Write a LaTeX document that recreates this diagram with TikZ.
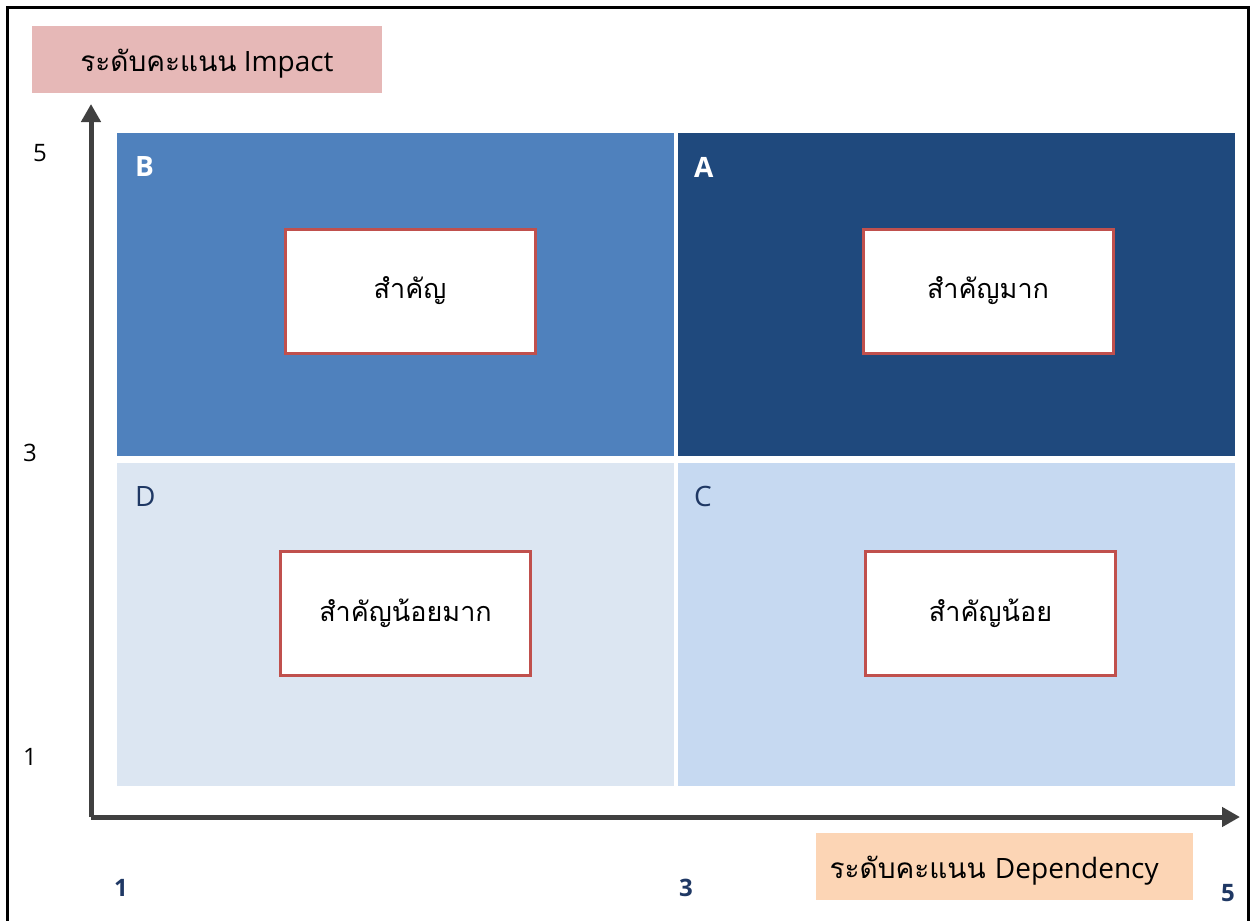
\documentclass[tikz,border=0pt]{standalone}
\usepackage{fontspec}
\setmainfont{Open Sans}
\newfontfamily\thaifont[Script=Thai]{Loma}
\usetikzlibrary{arrows.meta,positioning}

\definecolor{impactfill}{HTML}{E6B8B7}
\definecolor{depfill}{HTML}{FCD5B5}
\definecolor{quadA}{HTML}{1F497D}
\definecolor{quadB}{HTML}{4F81BD}
\definecolor{quadC}{HTML}{C6D9F1}
\definecolor{quadD}{HTML}{DCE6F2}
\definecolor{boxred}{HTML}{C0504D}
\definecolor{darkblue}{HTML}{1F3864}
\definecolor{axisgray}{HTML}{404040}

\begin{document}
\begin{tikzpicture}[x=0.5pt,y=-0.5pt]
    \tikzstyle{quad} = [rectangle, inner sep=0pt, minimum width=278.5pt,
               minimum height=161.5pt]
    \tikzstyle{levelbox} = [rectangle, draw=boxred, line width=1.5pt, fill=white,
               minimum width=125pt, minimum height=62pt, inner sep=0pt,
               font=\fontsize{13.5}{16}\selectfont\thaifont]
    \tikzstyle{axislabel} = [rectangle, inner sep=0pt, minimum height=33.5pt,
               text height=12pt, text depth=0pt,
               font=\fontsize{14}{17}\selectfont]
    \tikzstyle{tick} = [inner sep=0pt, font=\fontsize{12}{14}\selectfont]
    \tikzstyle{line} = [draw=axisgray, line width=2.5pt,
               -{Triangle[length=9pt,width=9.5pt]}]

    \useasboundingbox (0,0) rectangle (1253,921);

    % Outer frame
    \draw [line width=1.5pt] (7,921) -- (7,7) -- (1248,7) -- (1248,921);

    % Define quadrants
    \node [quad, fill=quadB] (quadB) at (395.5,294.5) {};
    \node [quad, fill=quadA] (quadA) at (956.5,294.5) {};
    \node [quad, fill=quadD] (quadD) at (395.5,624) {};
    \node [quad, fill=quadC] (quadC) at (956.5,624) {};

    \node [anchor=north west, text=white, font=\fontsize{14}{16}\selectfont\bfseries,
      inner sep=0pt] (letterB) at ([xshift=9pt,yshift=-12pt]quadB.north west) {B};
    \node [anchor=north west, text=white, font=\fontsize{14}{16}\selectfont\bfseries,
      inner sep=0pt] (letterA) at ([xshift=8pt,yshift=-12pt]quadA.north west) {A};
    \node [anchor=north west, text=darkblue, font=\fontsize{14}{16}\selectfont,
      inner sep=0pt] (letterD) at ([xshift=9pt,yshift=-12pt]quadD.north west) {D};
    \node [anchor=north west, text=darkblue, font=\fontsize{14}{16}\selectfont,
      inner sep=0pt] (letterC) at ([xshift=8pt,yshift=-12pt]quadC.north west) {C};

    % Level boxes
    \node [levelbox] (boxB) at (410,291) {สำคัญ};
    \node [levelbox] (boxA) at (988,291) {สำคัญมาก};
    \node [levelbox] (boxD) at (405.5,613.5) {สำคัญน้อยมาก};
    \node [levelbox] (boxC) at (990.5,613.5) {สำคัญน้อย};

    % Axes
    \coordinate (origin) at (91,817);
    \coordinate (ytip) at (91,104);
    \coordinate (xtip) at (1240,817);
    \draw [line] (origin) -- (ytip);
    \draw [line] (origin) -- (xtip);

    % Axis labels
    \node [axislabel, fill=impactfill, minimum width=175pt] (impact) at (207,59.5)
      {{\thaifont ระดับคะแนน} Impact};
    \node [axislabel, fill=depfill, minimum width=188.5pt, align=left,
      text width=175pt] (dependency) at (1004.5,866.5)
      {{\thaifont ระดับคะแนน} Dependency};

    % Ticks
    \node [tick] (y5) at (40,153) {5};
    \node [tick] (y3) at (30,453) {3};
    \node [tick] (y1) at (30,757) {1};
    \node [tick, text=darkblue, font=\fontsize{12}{14}\selectfont\bfseries] (x1) at (121,888) {1};
    \node [tick, text=darkblue, font=\fontsize{12}{14}\selectfont\bfseries] (x3) at (686,888) {3};
    \node [tick, text=darkblue, font=\fontsize{12}{14}\selectfont\bfseries] (x5) at (1228,893) {5};

\end{tikzpicture}
\end{document}
